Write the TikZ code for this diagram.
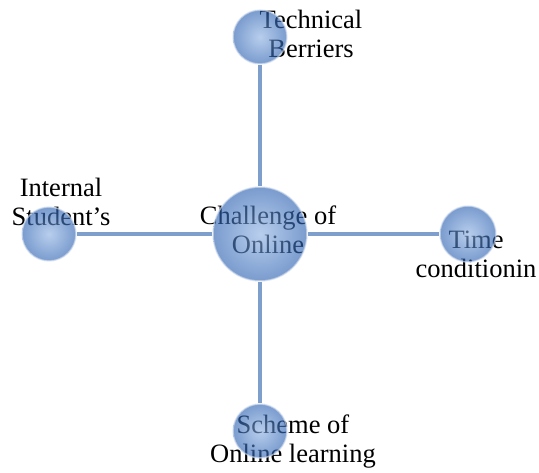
\documentclass[tikz,border=0pt]{standalone}
\usepackage{fontspec}
\setmainfont{Liberation Serif}
\usetikzlibrary{positioning}

\definecolor{balllight}{RGB}{140,176,226}
\definecolor{balldark}{RGB}{40,94,176}
\definecolor{spokeblue}{RGB}{126,158,204}

\begin{document}
\begin{tikzpicture}[
    x=1pt, y=-1pt,
    ball/.style={circle, inner sep=0pt, draw=white!70!spokeblue, line width=1.5pt,
                 inner color=balllight, outer color=balldark, opacity=0.62},
    lbl/.style={align=center, anchor=base, font=\fontsize{26.5}{29}\selectfont},
    spoke/.style={draw=spokeblue, line width=4pt},
  ]
  \useasboundingbox (0,0) rectangle (539,473);

  % labels (sit under the balls), placed by last baseline
  \node[lbl] (techtxt)   at (311, 58)  {Technical\\Berriers};
  \node[lbl] (studtxt)   at (61, 226)  {Internal\\Student’s};
  \node[lbl] (hubtxt)    at (268, 254) {Challenge of\\Online};
  \node[lbl] (timetxt)   at (476, 278) {Time\\conditionin};
  \node[lbl] (schemetxt) at (293, 463) {Scheme of\\Online learning};

  % balls
  \node[ball, minimum size=94] (hub)    at (260, 234) {};
  \node[ball, minimum size=54] (tech)   at (260, 37)  {};
  \node[ball, minimum size=54] (stud)   at (49, 234)  {};
  \node[ball, minimum size=56] (time)   at (468, 234) {};
  \node[ball, minimum size=54] (scheme) at (260, 431) {};

  % spokes
  \draw[spoke] (hub) -- (tech);
  \draw[spoke] (hub) -- (scheme);
  \draw[spoke] (hub) -- (stud);
  \draw[spoke] (hub) -- (time);
\end{tikzpicture}
\end{document}
